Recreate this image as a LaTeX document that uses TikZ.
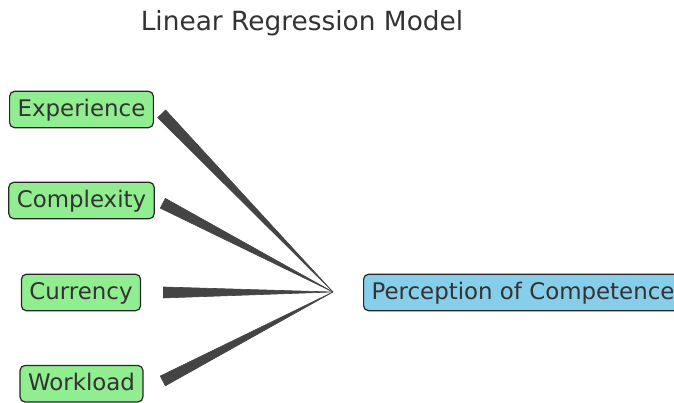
\documentclass[tikz,border=0pt]{standalone}
\usepackage{fontspec}
\setmainfont{DejaVu Sans}
\usetikzlibrary{calc}
\definecolor{boxgreen}{HTML}{90EE90}
\definecolor{boxblue}{HTML}{87CEEB}
\definecolor{inkgray}{HTML}{333333}
\definecolor{spokegray}{HTML}{444444}

\begin{document}
\begin{tikzpicture}[x=1pt,y=1pt,
  var/.style={draw=black!85,line width=1.2pt,rounded corners=5pt,text=inkgray,
    font=\fontsize{22.9}{27}\selectfont,inner xsep=8pt,inner ysep=7pt,
    text height=18.5pt,text depth=4pt},
  spoke/.style={fill=spokegray,draw=spokegray,line width=0.6pt,line join=round}]
\clip (0,0) rectangle (674,403);

\node[text=inkgray,font=\fontsize{26.4}{31}\selectfont,anchor=base] (title) at (302,372) {Linear Regression Model};

\node[var,fill=boxgreen] (exp) at (81.5,293.5) {Experience};
\node[var,fill=boxgreen] (cmp) at (81.5,202.5) {Complexity};
\node[var,fill=boxgreen] (cur) at (81,110.5) {Currency};
\node[var,fill=boxgreen] (wrk) at (81.5,19.3) {Workload};
\node[var,fill=boxblue,anchor=west] (perc) at (363,110.5) {Perception of Competence};

\coordinate (hub) at (333,111);
\coordinate (rail) at (157.5,0);

% tapered links into the outcome
\coordinate (b1) at ($(exp.center -| rail)!6pt!(hub)$);
\coordinate (b2) at ($(cmp.center -| rail)!6pt!(hub)$);
\coordinate (b3) at ($(cur.center -| rail)!6pt!(hub)$);
\coordinate (b4) at ($(wrk.center -| rail)!6pt!(hub)$);
\filldraw[spoke] ($(b1)!5.5pt!90:(hub)$) -- (hub) -- ($(b1)!5.5pt!-90:(hub)$) -- cycle;
\filldraw[spoke] ($(b2)!5.5pt!90:(hub)$) -- (hub) -- ($(b2)!5.5pt!-90:(hub)$) -- cycle;
\filldraw[spoke] ($(b3)!5.5pt!90:(hub)$) -- (hub) -- ($(b3)!5.5pt!-90:(hub)$) -- cycle;
\filldraw[spoke] ($(b4)!5.5pt!90:(hub)$) -- (hub) -- ($(b4)!5.5pt!-90:(hub)$) -- cycle;
\end{tikzpicture}
\end{document}
